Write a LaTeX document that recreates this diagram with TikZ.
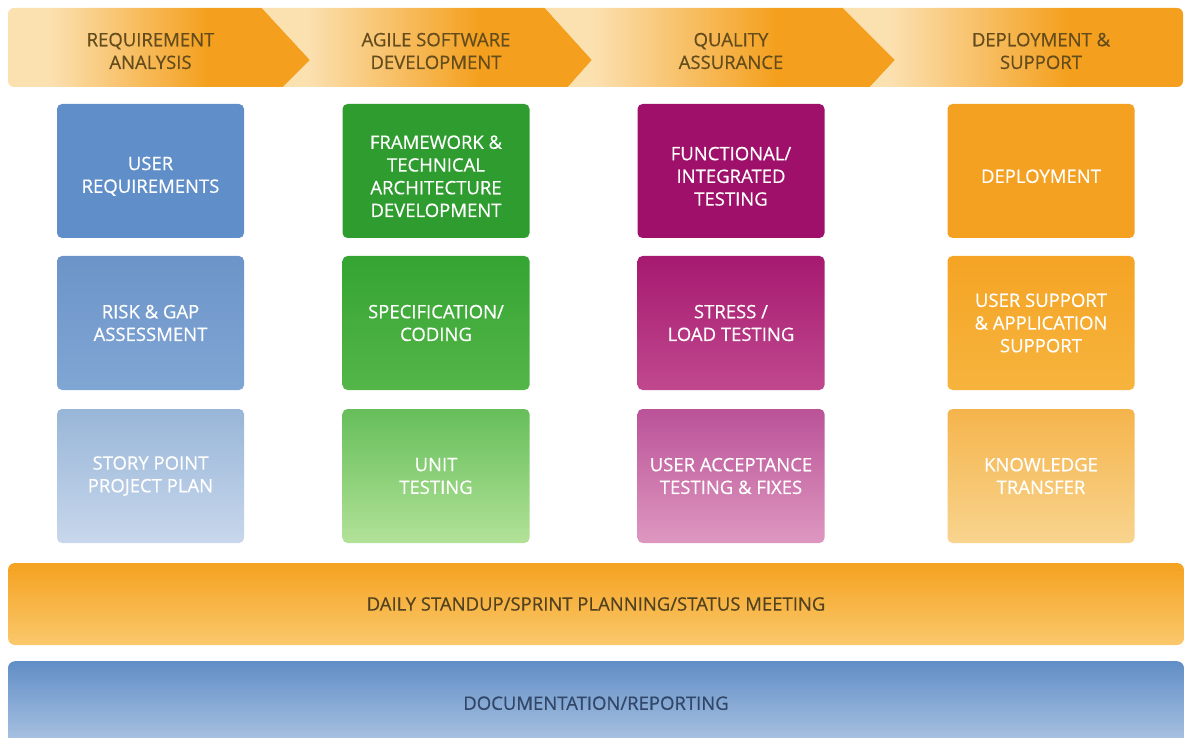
\documentclass[tikz,border=0pt]{standalone}
\usepackage{fontspec}
\setmainfont{Open Sans}
\newfontfamily\cardfamily{Open Sans}[FakeBold=0.5]
\usetikzlibrary{positioning}

\definecolor{chevlight}{RGB}{251,224,176}
\definecolor{chevorange}{RGB}{244,160,30}
\definecolor{headbrown}{RGB}{100,76,28}
\definecolor{bluedeep}{RGB}{96,142,200}
\definecolor{bluemidtop}{RGB}{108,148,200}
\definecolor{bluemidbot}{RGB}{128,166,212}
\definecolor{bluepaletop}{RGB}{152,182,216}
\definecolor{bluepalebot}{RGB}{200,215,236}
\definecolor{greendeep}{RGB}{46,156,46}
\definecolor{greenmidtop}{RGB}{52,164,50}
\definecolor{greenmidbot}{RGB}{84,182,72}
\definecolor{greenpaletop}{RGB}{102,190,90}
\definecolor{greenpalebot}{RGB}{178,226,152}
\definecolor{plumdeep}{RGB}{158,16,106}
\definecolor{plummidtop}{RGB}{166,26,112}
\definecolor{plummidbot}{RGB}{192,72,142}
\definecolor{plumpaletop}{RGB}{186,82,152}
\definecolor{plumpalebot}{RGB}{222,152,192}
\definecolor{amberdeep}{RGB}{244,160,32}
\definecolor{ambermidtop}{RGB}{245,164,36}
\definecolor{ambermidbot}{RGB}{246,180,62}
\definecolor{amberpaletop}{RGB}{245,180,76}
\definecolor{amberpalebot}{RGB}{248,212,142}
\definecolor{meetbrown}{RGB}{82,66,32}
\definecolor{docblue}{RGB}{50,70,104}
\definecolor{docbluetop}{RGB}{96,142,198}
\definecolor{docbluebot}{RGB}{172,196,226}
\definecolor{meettop}{RGB}{245,162,32}
\definecolor{meetbot}{RGB}{250,200,108}

\pgfdeclarehorizontalshading{chevshade}{100bp}{color(0bp)=(chevlight); color(25bp)=(chevlight); color(32bp)=(chevlight); color(58bp)=(chevorange); color(75bp)=(chevorange); color(100bp)=(chevorange)}

\newcommand\cardfont{\cardfamily\fontsize{18.5}{22.7}\selectfont}
\newcommand\toprowgap{\rule{0pt}{24pt}}

\begin{document}
\begin{tikzpicture}[x=1pt, y=-1pt,
  card/.style={rectangle, rounded corners=5pt, minimum width=187pt, minimum height=134pt, inner sep=0pt, align=center, text=white, font=\cardfont},
  phase/.style={align=center, text=headbrown, font=\cardfont},
  bar/.style={rectangle, rounded corners=7pt, minimum width=1176pt, inner sep=0pt, font=\cardfont}
]
\useasboundingbox (0,0) rectangle (1184,738);
\clip (0,0) rectangle (1184,738);

\begin{scope}
\clip[rounded corners=6pt] (8,8) rectangle (1183,87);
\shade[shading=chevshade] (8,8) -- (262,8) -- (310,60) -- (283,87) -- (8,87) -- cycle;
\shade[shading=chevshade] (262,8) -- (545,8) -- (592,60) -- (568,87) -- (283,87) -- (310,60) -- cycle;
\shade[shading=chevshade] (545,8) -- (843,8) -- (895,60) -- (870,87) -- (568,87) -- (592,60) -- cycle;
\shade[shading=chevshade] (843,8) -- (1183,8) -- (1183,87) -- (870,87) -- (895,60) -- cycle;
\end{scope}

\node[card, fill=bluedeep] (userreq) at (150.5,171) {\toprowgap USER\\REQUIREMENTS};
\node[card, top color=bluemidtop, bottom color=bluemidbot, below of=userreq, node distance=152pt] (riskgap) {RISK \& GAP\\ASSESSMENT};
\node[card, top color=bluepaletop, bottom color=bluepalebot, below of=riskgap, node distance=153pt] (storyplan) {STORY POINT\\PROJECT PLAN};

\node[card, fill=greendeep, right of=userreq, node distance=285.5pt] (framework) {\toprowgap FRAMEWORK \&\\TECHNICAL\\ARCHITECTURE\\DEVELOPMENT};
\node[card, top color=greenmidtop, bottom color=greenmidbot, below of=framework, node distance=152pt] (speccoding) {SPECIFICATION/\\CODING};
\node[card, top color=greenpaletop, bottom color=greenpalebot, below of=speccoding, node distance=153pt] (unittest) {UNIT\\TESTING};

\node[card, fill=plumdeep, right of=framework, node distance=295pt] (functest) {\toprowgap FUNCTIONAL/\\INTEGRATED\\TESTING};
\node[card, top color=plummidtop, bottom color=plummidbot, below of=functest, node distance=152pt] (stresstest) {STRESS /\\LOAD TESTING};
\node[card, top color=plumpaletop, bottom color=plumpalebot, below of=stresstest, node distance=153pt] (uatfix) {USER ACCEPTANCE\\TESTING \& FIXES};

\node[card, fill=amberdeep, right of=functest, node distance=310pt] (deploy) {\toprowgap DEPLOYMENT};
\node[card, top color=ambermidtop, bottom color=ambermidbot, below of=deploy, node distance=152pt] (appsupport) {USER SUPPORT\\\& APPLICATION\\SUPPORT};
\node[card, top color=amberpaletop, bottom color=amberpalebot, below of=appsupport, node distance=153pt] (knowtransfer) {KNOWLEDGE\\TRANSFER};

\node[phase, above of=userreq, node distance=120pt] (reqanalysis) {REQUIREMENT\\ANALYSIS};
\node[phase, above of=framework, node distance=120pt] (agiledev) {AGILE SOFTWARE\\DEVELOPMENT};
\node[phase, above of=functest, node distance=120pt] (qualityassur) {QUALITY\\ASSURANCE};
\node[phase, above of=deploy, node distance=120pt] (deploysupport) {DEPLOYMENT \&\\SUPPORT};

\node[bar, minimum height=82pt, top color=meettop, bottom color=meetbot, text=meetbrown] (standup) at (596,604) {DAILY STANDUP/SPRINT PLANNING/STATUS MEETING};
\node[bar, minimum height=84pt, top color=docbluetop, bottom color=docbluebot, text=docblue, anchor=north] (docreport) at (596,661) {DOCUMENTATION/REPORTING};
\end{tikzpicture}
\end{document}
